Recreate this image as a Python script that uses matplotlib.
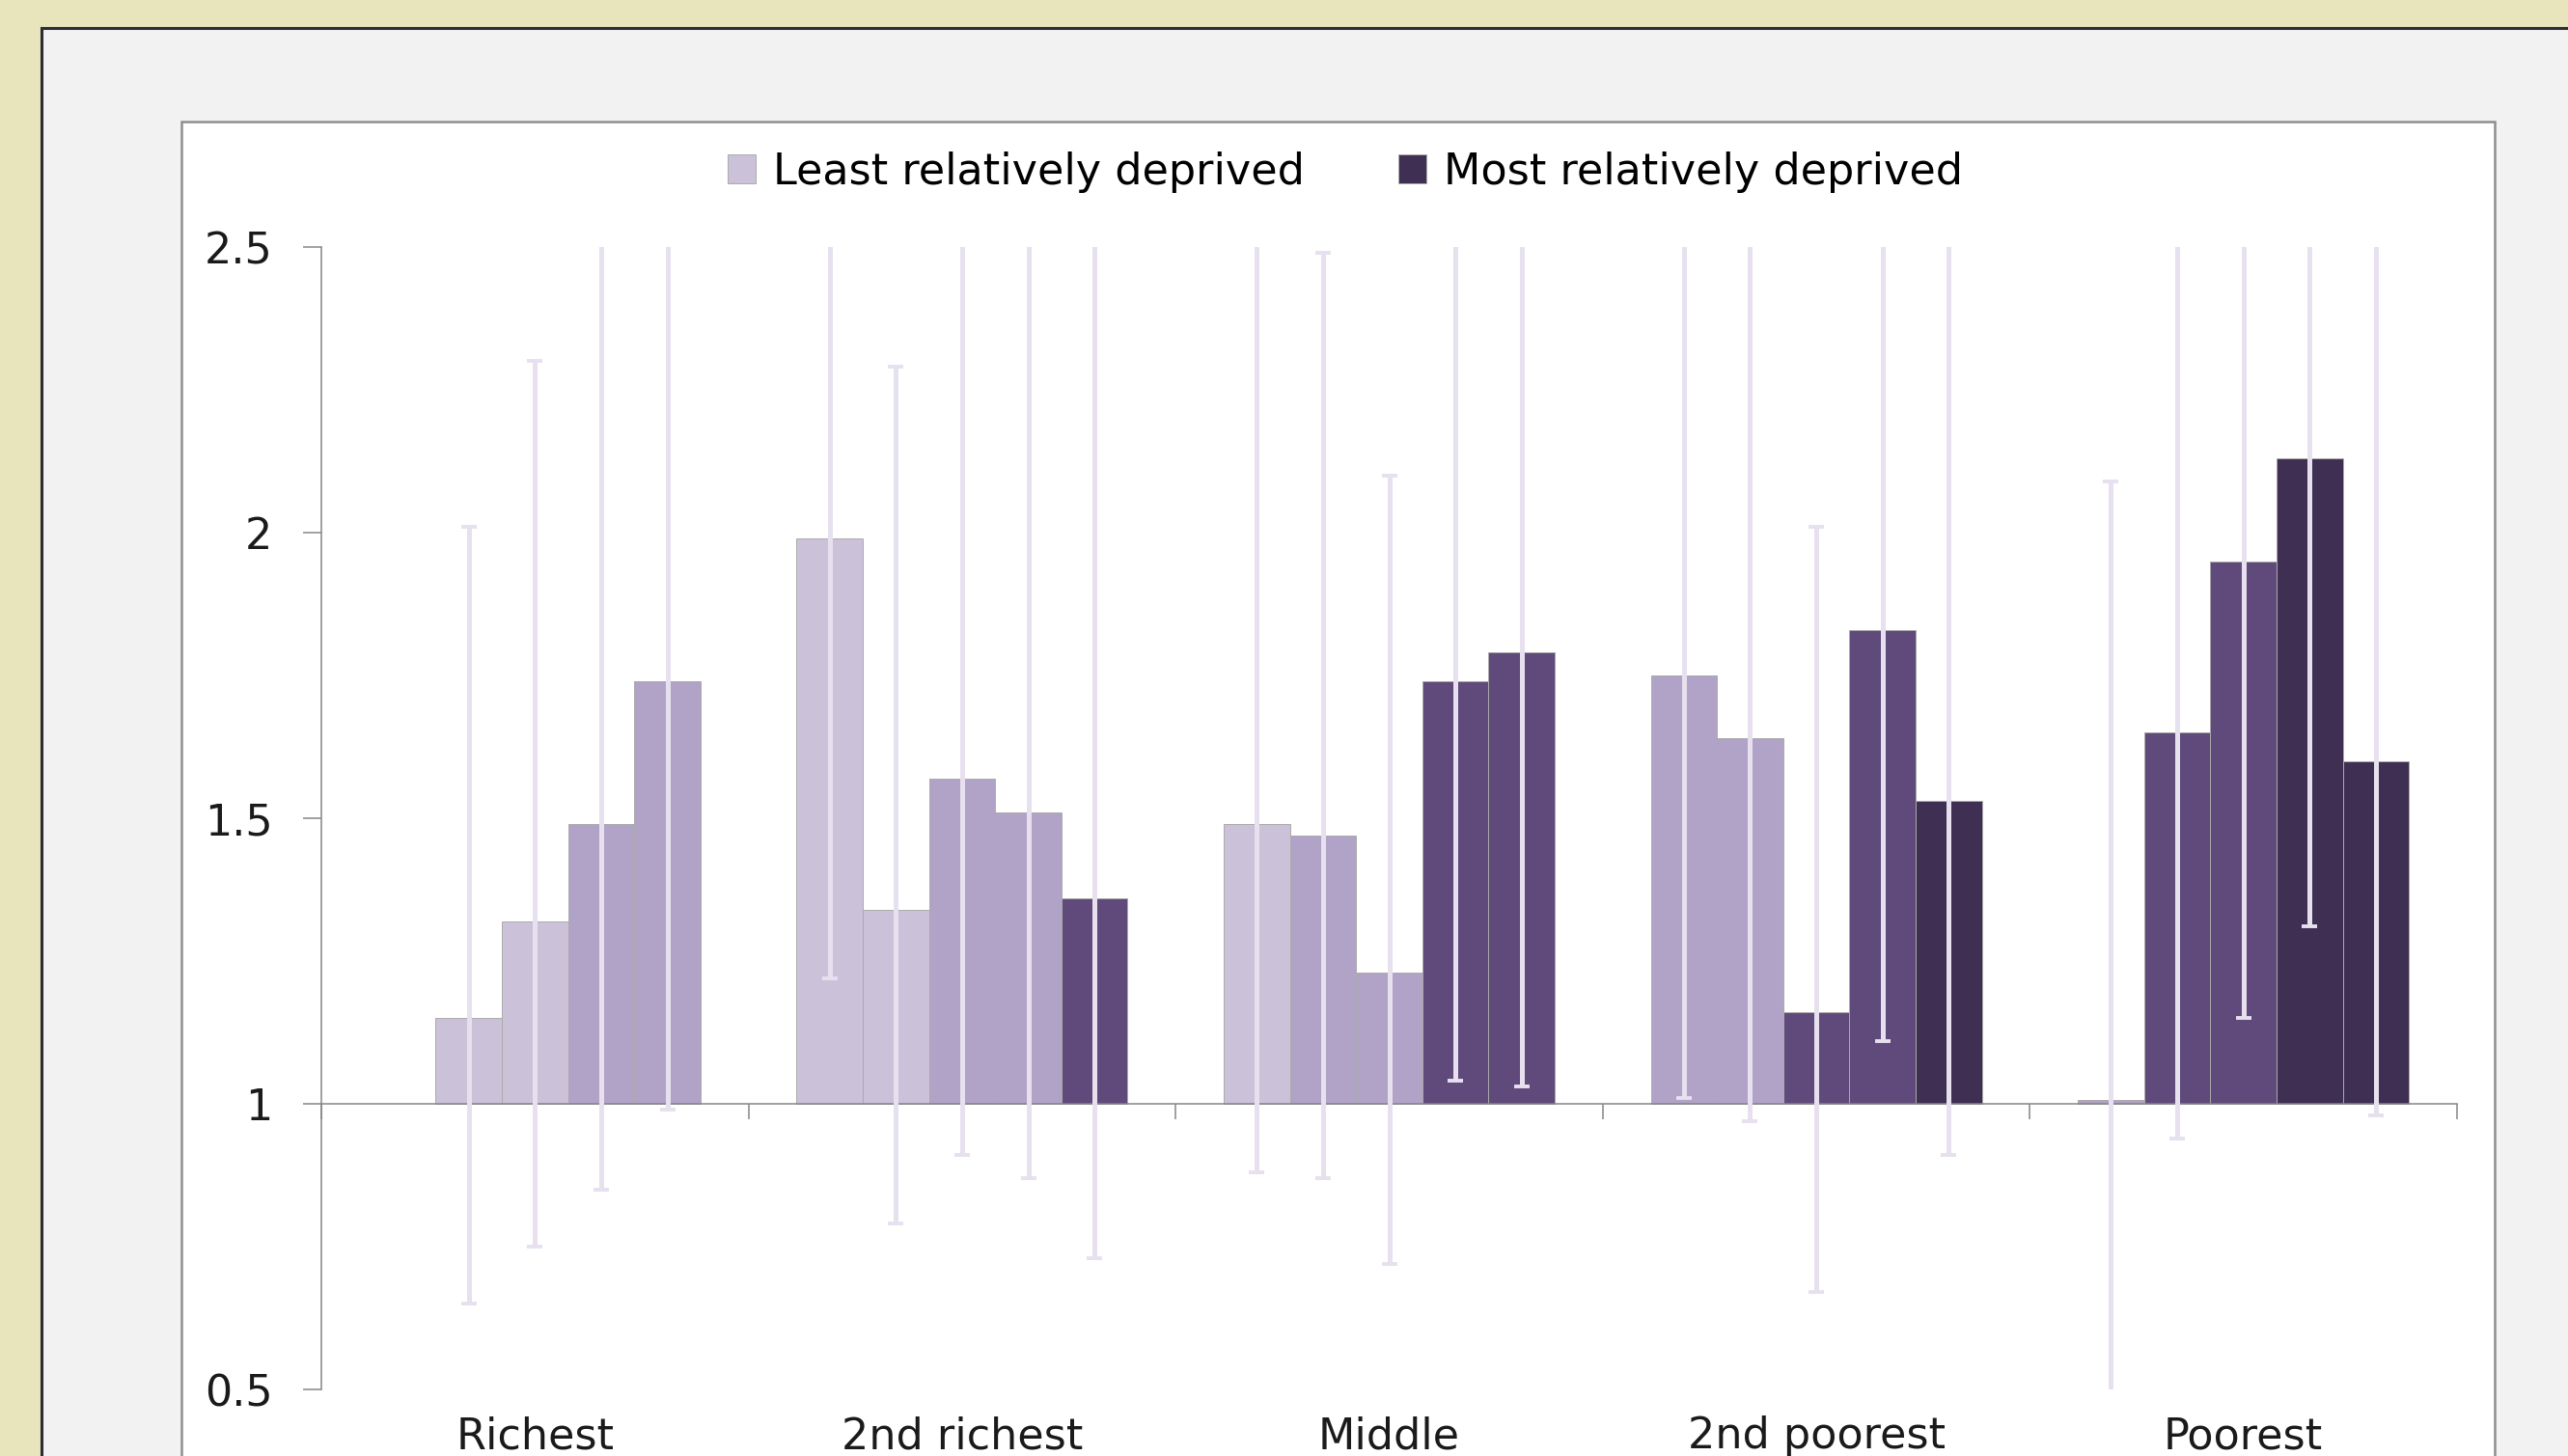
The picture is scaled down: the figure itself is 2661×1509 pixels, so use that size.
import matplotlib
matplotlib.use("Agg")
import matplotlib.pyplot as plt
import numpy as np
from matplotlib.patches import Rectangle, Patch

# ---- data -------------------------------------------------------------
categories = ["Richest", "2nd richest", "Middle", "2nd poorest", "Poorest"]
legend_labels = ["Least relatively deprived", "Most relatively deprived"]

# Relative risk for the five deprivation groups within each income group
richest     = [np.nan, 1.15, 1.32, 1.49, 1.74]
second_rich = [1.99, 1.34, 1.57, 1.51, 1.36]
middle      = [1.49, 1.47, 1.23, 1.74, 1.79]
second_poor = [1.75, 1.64, 1.16, 1.83, 1.53]
poorest     = [1.007, 1.65, 1.95, 2.13, 1.60]

# 95% confidence limits
richest_lo     = [np.nan, 0.65, 0.75, 0.85, 0.99]
richest_hi     = [np.nan, 2.01, 2.30, 2.61, 3.06]
second_rich_lo = [1.22, 0.79, 0.91, 0.87, 0.73]
second_rich_hi = [3.25, 2.29, 2.71, 2.62, 2.53]
middle_lo      = [0.88, 0.87, 0.72, 1.04, 1.03]
middle_hi      = [2.52, 2.49, 2.10, 2.91, 3.11]
second_poor_lo = [1.01, 0.97, 0.67, 1.11, 0.91]
second_poor_hi = [3.03, 2.77, 2.01, 3.02, 2.57]
poorest_lo     = [0.48, 0.94, 1.15, 1.31, 0.98]
poorest_hi     = [2.09, 2.90, 3.31, 3.46, 2.61]

# shade level of every bar (0 = lightest ... 3 = darkest)
richest_shade     = [0, 0, 0, 1, 1]
second_rich_shade = [0, 0, 1, 1, 2]
middle_shade      = [0, 1, 1, 2, 2]
second_poor_shade = [1, 1, 2, 2, 3]
poorest_shade     = [1, 2, 2, 3, 3]

y_ticks = [0.5, 1, 1.5, 2, 2.5]
y_tick_labels = ["0.5", "1", "1.5", "2", "2.5"]

values = [richest, second_rich, middle, second_poor, poorest]
lows = [richest_lo, second_rich_lo, middle_lo, second_poor_lo, poorest_lo]
highs = [richest_hi, second_rich_hi, middle_hi, second_poor_hi, poorest_hi]
shades = [richest_shade, second_rich_shade, middle_shade,
          second_poor_shade, poorest_shade]

# ---- style ------------------------------------------------------------
palette = ["#cbc2da", "#b1a2c8", "#5f4a7b", "#3f2f52"]
err_color = "#e6e0ef"
axis_grey = "#868686"
FONT = "DejaVu Sans"
FS = 32

W, H = 2661, 1509
DPI = 100
fig = plt.figure(figsize=(W / DPI, H / DPI), dpi=DPI)
fig.patch.set_facecolor("#e8e4bb")


def fx(px):
    return px / W


def fy(py):
    return 1 - py / H


# grey panel with dark frame
fig.add_artist(Rectangle((fx(44), fy(H + 20)), fx(W - 44 + 20), (H + 20 - 30) / H,
                         transform=fig.transFigure, facecolor="#f2f2f2",
                         edgecolor="none", zorder=0))
fig.add_artist(plt.Line2D([fx(43), fx(43)], [fy(29), 0], transform=fig.transFigure,
                          color="#2c2c36", lw=2.2, zorder=1))
fig.add_artist(plt.Line2D([fx(43), 1], [fy(29), fy(29)], transform=fig.transFigure,
                          color="#2c2c36", lw=2.2, zorder=1))
# white chart area
fig.add_artist(Rectangle((fx(188), fy(H + 20)), fx(2585 - 188), (H + 20 - 126) / H,
                         transform=fig.transFigure, facecolor="white",
                         edgecolor="#8f8f8f", lw=1.8, zorder=1))

ax = fig.add_axes([fx(333), fy(1440), fx(2546 - 333), (1440 - 256) / H])
ax.set_facecolor("none")
ax.set_zorder(2)

n_slots = 5
bar_w = 0.155
x_cat = np.arange(len(categories))

for g in range(len(categories)):
    for s in range(n_slots):
        v = values[g][s]
        if np.isnan(v):
            continue
        x = x_cat[g] + (s - (n_slots - 1) / 2) * bar_w
        ax.bar(x, v - 1, bottom=1, width=bar_w, color=palette[shades[g][s]],
               edgecolor="#ababab", linewidth=0.7, zorder=2)
        lo, hi = lows[g][s], highs[g][s]
        ax.errorbar(x, v, yerr=[[v - lo], [hi - v]], fmt="none",
                    ecolor=err_color, elinewidth=3.6, capsize=5.5,
                    capthick=2.8, zorder=3)

ax.set_xlim(-0.5, len(categories) - 0.5)
ax.set_ylim(0.5, 2.5)

for side in ("top", "right"):
    ax.spines[side].set_visible(False)
ax.spines["bottom"].set_position(("data", 1))
for side in ("left", "bottom"):
    ax.spines[side].set_color(axis_grey)
    ax.spines[side].set_linewidth(1.1)
    ax.spines[side].set_zorder(2.5)

ax.set_yticks(y_ticks)
ax.set_yticklabels(y_tick_labels, fontsize=FS, family=FONT, color="#1a1a1a")
ax.tick_params(axis="y", length=13.5, width=1.1, color=axis_grey, pad=23)

ax.set_xticks(np.arange(len(categories) + 1) - 0.5)
ax.set_xticklabels([])
ax.tick_params(axis="x", length=11.5, width=1.1, color=axis_grey, direction="out")

for g, name in enumerate(categories):
    ax.text(x_cat[g], -0.041, name, transform=ax.get_xaxis_transform(),
            ha="center", va="center", fontsize=FS, family=FONT, color="#1a1a1a",
            clip_on=False)

handles = [Patch(facecolor=palette[0], edgecolor="#ababab", lw=0.7),
           Patch(facecolor=palette[3], edgecolor="#ababab", lw=0.7)]
fig.legend(handles, legend_labels, loc="center", bbox_to_anchor=(fx(1394), fy(178)),
           ncol=2, frameon=False, prop={"family": FONT, "size": FS},
           handlelength=0.65, handleheight=0.65, handletextpad=0.4,
           columnspacing=2.2)

fig.savefig("out.png", dpi=DPI, facecolor=fig.get_facecolor())
